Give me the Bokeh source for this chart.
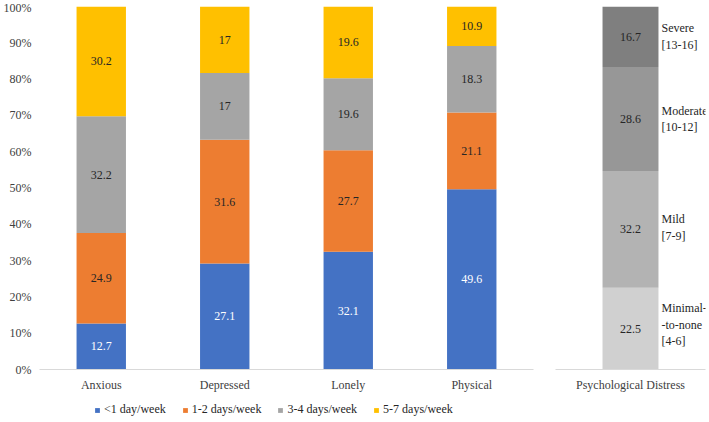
from bokeh.plotting import figure
from bokeh.models import ColumnDataSource, NumeralTickFormatter, Legend, LegendItem, FixedTicker, LabelSet
from bokeh.layouts import row, column
from bokeh.embed import file_html
from bokeh.resources import INLINE
from bokeh.core.properties import value

# ---------------- data ----------------
categories = ["Anxious", "Depressed", "Lonely", "Physical"]
series_names = ["<1 day/week", "1-2 days/week", "3-4 days/week", "5-7 days/week"]
less_than_1 = [12.7, 27.1, 32.1, 49.6]
days_1_2 = [24.9, 31.6, 27.7, 21.1]
days_3_4 = [32.2, 17, 19.6, 18.3]
days_5_7 = [30.2, 17, 19.6, 10.9]
y_tick_values = [0, 0.1, 0.2, 0.3, 0.4, 0.5, 0.6, 0.7, 0.8, 0.9, 1.0]

distress_category = ["Psychological Distress"]
distress_levels = ["Minimal-\n-to-none\n[4-6]", "Mild\n[7-9]", "Moderate\n[10-12]", "Severe\n[13-16]"]
distress_values = [22.5, 32.2, 28.6, 16.7]

# ---------------- styles ----------------
FONT_NAME = "Liberation Serif"
FONT = value(FONT_NAME)
FS = "12px"
series_colors = ["#4472C4", "#ED7D31", "#A5A5A5", "#FFC000"]
label_colors = ["#FFFFFF", "#262626", "#262626", "#262626"]
distress_colors = ["#D0D0D0", "#B3B3B3", "#979797", "#7F7F7F"]
level_y_offsets = [4, 2, 0, 0]
AXIS_TEXT = "#404040"

def style_xaxis(fig):
    fig.xaxis.axis_line_color = "#D9D9D9"
    fig.xaxis.major_tick_line_color = None
    fig.xaxis.minor_tick_line_color = None
    fig.xaxis.major_tick_out = 0
    fig.xaxis.major_label_standoff = 8
    fig.xaxis.major_label_text_font = FONT_NAME
    fig.xaxis.major_label_text_font_size = FS
    fig.xaxis.major_label_text_color = AXIS_TEXT
    fig.xgrid.grid_line_color = None
    fig.ygrid.grid_line_color = None
    fig.outline_line_color = None

# ---------------- left chart ----------------
series_values = [less_than_1, days_1_2, days_3_4, days_5_7]
keys = ["s0", "s1", "s2", "s3"]
totals = [sum(vals) for vals in zip(*series_values)]
data = {"cat": categories}
for k, vals in zip(keys, series_values):
    data[k] = [v / t for v, t in zip(vals, totals)]
src = ColumnDataSource(data)

p = figure(x_range=categories, y_range=(0, 1), width=553, height=394,
           output_backend="svg", toolbar_location=None,
           min_border_top=6, min_border_right=20, min_border_left=0, min_border_bottom=24)
p.vbar_stack(keys, x="cat", width=0.4, color=series_colors, line_color=None, source=src)

lx, ly, lt, lc = [], [], [], []
for i, cat in enumerate(categories):
    base = 0.0
    for s, vals in enumerate(series_values):
        frac = vals[i] / totals[i]
        lx.append(cat)
        ly.append(base + frac / 2)
        lt.append(f"{vals[i]:g}")
        lc.append(label_colors[s])
        base += frac
p.text(x="x", y="y", text="t", text_color="c",
       source=ColumnDataSource(dict(x=lx, y=ly, t=lt, c=lc)),
       text_align="center", text_baseline="middle", text_font=FONT, text_font_size=FS)

p.yaxis.ticker = FixedTicker(ticks=y_tick_values)
p.yaxis.formatter = NumeralTickFormatter(format="0%")
p.yaxis.axis_line_color = None
p.yaxis.major_tick_line_color = None
p.yaxis.minor_tick_line_color = None
p.yaxis.major_tick_out = 0
p.yaxis.major_label_standoff = 8
p.yaxis.major_label_text_font = FONT_NAME
p.yaxis.major_label_text_font_size = FS
p.yaxis.major_label_text_color = AXIS_TEXT
style_xaxis(p)
p.x_range.range_padding = 0

# ---------------- right chart ----------------
dkeys = ["d0", "d1", "d2", "d3"]
dtotal = sum(distress_values)
ddata = {"cat": distress_category}
for k, v in zip(dkeys, distress_values):
    ddata[k] = [v / dtotal]
p2 = figure(x_range=distress_category, y_range=(0, 1), width=156, height=394,
            output_backend="svg", toolbar_location=None,
            min_border_top=6, min_border_left=2, min_border_right=4, min_border_bottom=24)
p2.vbar_stack(dkeys, x="cat", width=0.373, color=distress_colors, line_color=None,
              source=ColumnDataSource(ddata))

dy, dt, base = [], [], 0.0
for v in distress_values:
    frac = v / dtotal
    dy.append(base + frac / 2)
    dt.append(f"{v:g}")
    base += frac
dx = distress_category * len(distress_values)
p2.text(x="x", y="y", text="t", source=ColumnDataSource(dict(x=dx, y=dy, t=dt)),
        text_color="#262626", text_align="center", text_baseline="middle",
        text_font=FONT, text_font_size=FS)
levels = LabelSet(x="x", y="y", text="t", y_offset="o", x_offset=31,
                  source=ColumnDataSource(dict(x=dx, y=dy, t=distress_levels, o=level_y_offsets)),
                  text_color="#262626", text_align="left", text_baseline="middle",
                  text_font=FONT_NAME, text_font_size=FS, text_line_height=1.2)
p2.add_layout(levels)
p2.yaxis.visible = False
style_xaxis(p2)
p2.x_range.range_padding = 0

# ---------------- legend strip ----------------
p3 = figure(width=709, height=28, output_backend="svg", toolbar_location=None,
            x_range=(0, 1), y_range=(0, 1), min_border=0)
p3.axis.visible = False
p3.grid.visible = False
p3.outline_line_color = None
items = []
for name, col in zip(series_names, series_colors):
    # zero-height bar: only provides the legend swatch
    r = p3.vbar(x=[0], top=[0], bottom=[0], width=0.0, fill_color=col, line_color=None)
    items.append(LegendItem(label=name, renderers=[r]))
legend = Legend(items=items, orientation="horizontal", location=(94, 5),
                glyph_width=6, glyph_height=6, label_standoff=4, spacing=16,
                padding=3, margin=0, label_height=14, border_line_color=None,
                background_fill_alpha=0, label_text_font=FONT_NAME,
                label_text_font_size=FS, label_text_color="#262626",
                label_text_baseline="middle")
p3.add_layout(legend)

layout = column(row(p, p2), p3)
open("out.html", "w").write(file_html(layout, INLINE))
